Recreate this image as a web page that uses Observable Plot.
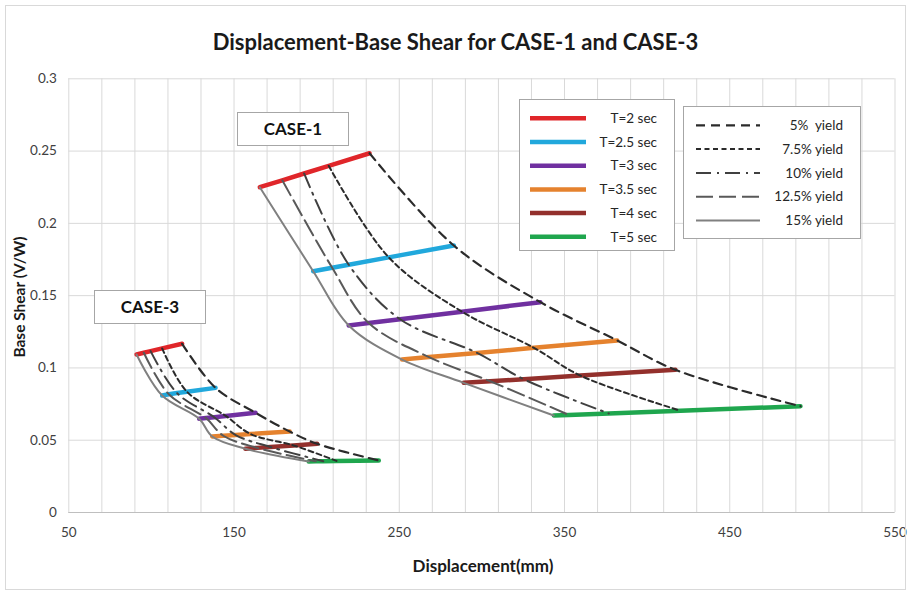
<!DOCTYPE html>
<html><head><meta charset="utf-8">
<script src="https://cdn.jsdelivr.net/npm/d3@7"></script>
<script src="https://cdn.jsdelivr.net/npm/@observablehq/plot@0.6"></script>
<style>
body{margin:0;background:#fff;font-family:Lato,"Open Sans",sans-serif;}
#wrap{position:relative;width:911px;height:594px;overflow:hidden;background:#fff;}
#frame{position:absolute;left:5px;top:5px;width:899px;height:583px;border:1px solid #d9d9d9;pointer-events:none;}
#title{height:62px;box-sizing:border-box;padding-top:29px;text-align:center;font-weight:bold;font-size:22px;color:#1a1a1a;line-height:26px;}
.box{position:absolute;background:#fff;border:1px solid #a6a6a6;box-sizing:border-box;}
.case{font-weight:bold;font-size:17px;color:#111;text-align:center;line-height:31px;}
.axt{position:absolute;font-weight:bold;color:#1a1a1a;white-space:nowrap;}
</style></head>
<body><div id="wrap"><div id="title">Displacement-Base Shear for CASE-1 and CASE-3</div><div id="chart"></div><div id="frame"></div></div>
<script>
// ---- data ----
const periods = ["T=2 sec","T=2.5 sec","T=3 sec","T=3.5 sec","T=4 sec","T=5 sec"];
const periodColors = ["#e0262a","#21a8dc","#7030a0","#e5822e","#93302c","#1fa64e"];
const yieldLabels = ["5%  yield","7.5% yield","10% yield","12.5% yield","15% yield"];
const xTicks = [50,150,250,350,450,550];
const yTicks = [0,0.05,0.1,0.15,0.2,0.25,0.3];
// columns: 5%, 7.5%, 10%, 12.5%, 15% yield ; rows: periods
const case1Disp = [
  [232.0,207.3,192.4,179.2,165.6],
  [283.0,243.6,219.4,209.4,197.9],
  [335.4,288.0,250.5,231.5,219.4],
  [381.9,331.5,297.1,268.0,251.7],
  [417.1,359.6,325.3,305.0,289.0],
  [492.8,420.2,376.8,352.6,343.5]
];
const case1Shear = [
  [0.2485,0.2398,0.2345,0.2298,0.2250],
  [0.1847,0.1765,0.1714,0.1693,0.1669],
  [0.1455,0.1389,0.1337,0.1311,0.1294],
  [0.1190,0.1139,0.1104,0.1075,0.1058],
  [0.0987,0.0947,0.0922,0.0908,0.0897],
  [0.0735,0.0704,0.0685,0.0675,0.0671]
];
const case3Disp = [
  [118.6,106.5,99.5,95.4,91.0],
  [138.8,121.5,115.5,110.5,106.5],
  [163.0,145.0,138.0,133.0,128.9],
  [183.7,160.0,151.0,143.5,136.8],
  [200.3,186.0,172.0,164.0,156.9],
  [237.6,212.0,204.0,199.5,195.2]
];
const case3Shear = [
  [0.1167,0.1135,0.1116,0.1105,0.1093],
  [0.0862,0.0835,0.0826,0.0818,0.0809],
  [0.0690,0.0668,0.0659,0.0653,0.0648],
  [0.0560,0.0543,0.0536,0.0531,0.0526],
  [0.0475,0.0464,0.0453,0.0447,0.0441],
  [0.0360,0.0357,0.0355,0.0354,0.0353]
];
// ---- styles ----
const yieldStroke = ["#2b2b2b","#2b2b2b","#404040","#595959","#808080"];
const yieldDash = ["9,6","5,3.5","15,6,2,6","17,6",null];
const yieldWidth = [2.2,2,2,2,2];

const rows = [];
[["CASE-1",case1Disp,case1Shear],["CASE-3",case3Disp,case3Shear]].forEach(([c,D,S])=>{
  periods.forEach((p,i)=>yieldLabels.forEach((y,j)=>rows.push({case:c,period:p,yield:y,x:D[i][j],y:S[i][j]})));
});

const marks = [
  Plot.gridX(d3.range(50,551,20),{stroke:"#d9d9d9",strokeOpacity:1}),
  Plot.gridY(yTicks,{stroke:"#d9d9d9",strokeOpacity:1}),
  Plot.ruleY([0],{stroke:"#bfbfbf"}),
  Plot.axisX(xTicks,{tickSize:0,tickPadding:15,label:null,fill:"#404040"}),
  Plot.axisY(yTicks,{tickSize:0,tickPadding:12,label:null,fill:"#404040",tickFormat:d=>String(+d.toFixed(2))}),
  Plot.line(rows,{x:"x",y:"y",z:d=>d.case+d.period,stroke:"period",strokeWidth:4.5,strokeLinecap:"round"})
];
yieldLabels.forEach((yl,j)=>{
  marks.push(Plot.line(rows.filter(d=>d.yield===yl),{x:"x",y:"y",z:"case",stroke:yieldStroke[j],strokeWidth:yieldWidth[j],strokeDasharray:yieldDash[j]||undefined,curve:"catmull-rom"}));
});

const chart = Plot.plot({
  width:911,height:532,
  marginLeft:68.3,marginRight:16.5,marginTop:16.3,marginBottom:82,
  x:{domain:[50,550]},
  y:{domain:[0,0.3]},
  color:{domain:periods,range:periodColors},
  style:{fontSize:"13.5px",fontFamily:"Lato, 'Open Sans', sans-serif",background:"#fff"},
  marks
});
document.getElementById("chart").appendChild(chart);

// ---- annotations & legends (HTML overlays) ----
const wrap = document.getElementById("wrap");
function add(html){const t=document.createElement("div");t.innerHTML=html;const e=t.firstChild;wrap.appendChild(e);return e;}
add(`<div class="box case" style="left:237px;top:112px;width:112px;height:34px;">CASE-1</div>`);
add(`<div class="box case" style="left:94px;top:290px;width:112px;height:34px;">CASE-3</div>`);
add(`<div class="axt" style="left:483px;top:565px;font-size:17px;transform:translate(-50%,-50%);">Displacement(mm)</div>`);
add(`<div class="axt" style="left:19px;top:297px;font-size:15.5px;transform:translate(-50%,-50%) rotate(-90deg);">Base Shear (V/W)</div>`);

// legend 1: periods
let s1 = `<div class="box" style="left:519px;top:99px;width:156px;height:152px;"><svg width="156" height="152" style="display:block">`;
periods.forEach((p,i)=>{
  const y = 18.3 + i*23.7;
  s1 += `<line x1="10" x2="66" y1="${y}" y2="${y}" stroke="${periodColors[i]}" stroke-width="4.5"/>`;
  s1 += `<text x="137" y="${y}" dy="0.35em" text-anchor="end" font-size="13.5" fill="#262626" font-family="Lato, sans-serif">${p}</text>`;
});
s1 += `</svg></div>`;
add(s1);
// legend 2: yields
let s2 = `<div class="box" style="left:683px;top:106px;width:178px;height:133px;"><svg width="178" height="133" style="display:block">`;
yieldLabels.forEach((l,j)=>{
  const y = 18.3 + j*23.8;
  s2 += `<line x1="12" x2="76" y1="${y}" y2="${y}" stroke="${yieldStroke[j]}" stroke-width="${yieldWidth[j]}" ${yieldDash[j]?`stroke-dasharray="${yieldDash[j]}"`:""}/>`;
  s2 += `<text x="159" y="${y}" dy="0.35em" text-anchor="end" font-size="13.5" fill="#262626" font-family="Lato, sans-serif" xml:space="preserve">${l}</text>`;
});
s2 += `</svg></div>`;
add(s2);
</script>
</body></html>
